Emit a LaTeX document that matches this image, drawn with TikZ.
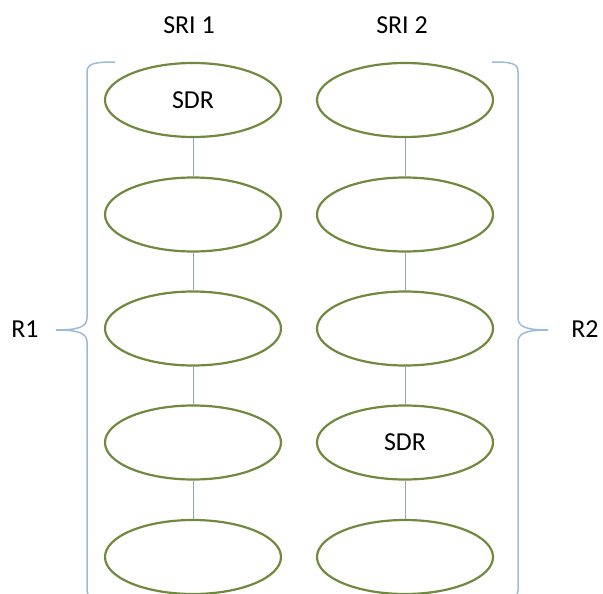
\documentclass[tikz,border=0pt]{standalone}
\usepackage{fontspec}
\setmainfont{Carlito}
\usetikzlibrary{shapes.geometric}
\definecolor{ringgreen}{HTML}{71893F}
\definecolor{linkgray}{HTML}{8FA5B8}
\definecolor{braceblue}{HTML}{9DBAD8}
\begin{document}
\begin{tikzpicture}[x=1bp,y=-1bp,
  cell/.style={ellipse, draw=ringgreen, line width=2.2bp, minimum width=176bp,
    minimum height=74bp, inner sep=0pt, font=\fontsize{26}{30}\selectfont},
  link/.style={draw=linkgray, line width=1bp},
  brace/.style={draw=braceblue, line width=1.5bp},
  tag/.style={font=\fontsize{26}{30}\selectfont, inner sep=0pt}]
\useasboundingbox (0,0) rectangle (603,594);

% column headings
\node[tag] (h1) at (189,25) {SRI 1};
\node[tag] (h2) at (402,25) {SRI 2};

% first column
\node[cell] (a1) at (193,100) {SDR};
\node[cell] (a2) at (193,214.5) {};
\node[cell] (a3) at (193,328.5) {};
\node[cell] (a4) at (193,442.5) {};
\node[cell] (a5) at (193,557) {};

% second column
\node[cell] (b1) at (405,100) {};
\node[cell] (b2) at (405,214.5) {};
\node[cell] (b3) at (405,328.5) {};
\node[cell] (b4) at (405,442.5) {SDR};
\node[cell] (b5) at (405,557) {};

% links inside each column
\foreach \c in {a,b}{
  \draw[link] (\c1.south) -- (\c2.north);
  \draw[link] (\c2.south) -- (\c3.north);
  \draw[link] (\c3.south) -- (\c4.north);
  \draw[link] (\c4.south) -- (\c5.north);
}

% curly braces
\draw[brace] (115,62) .. controls (96,62) and (87,63) .. (87,72)
  -- (87,318) .. controls (87,327) and (78,330) .. (56,330)
  .. controls (78,330) and (87,333) .. (87,342)
  -- (87,590) .. controls (87,599) and (96,600) .. (115,600);
\draw[brace] (492,62) .. controls (511,62) and (518,63) .. (518,72)
  -- (518,318) .. controls (518,327) and (527,330) .. (548,330)
  .. controls (527,330) and (518,333) .. (518,342)
  -- (518,590) .. controls (518,599) and (511,600) .. (492,600);

% brace labels
\node[tag] (r1) at (25,329) {R1};
\node[tag] (r2) at (585,329) {R2};
\end{tikzpicture}
\end{document}
